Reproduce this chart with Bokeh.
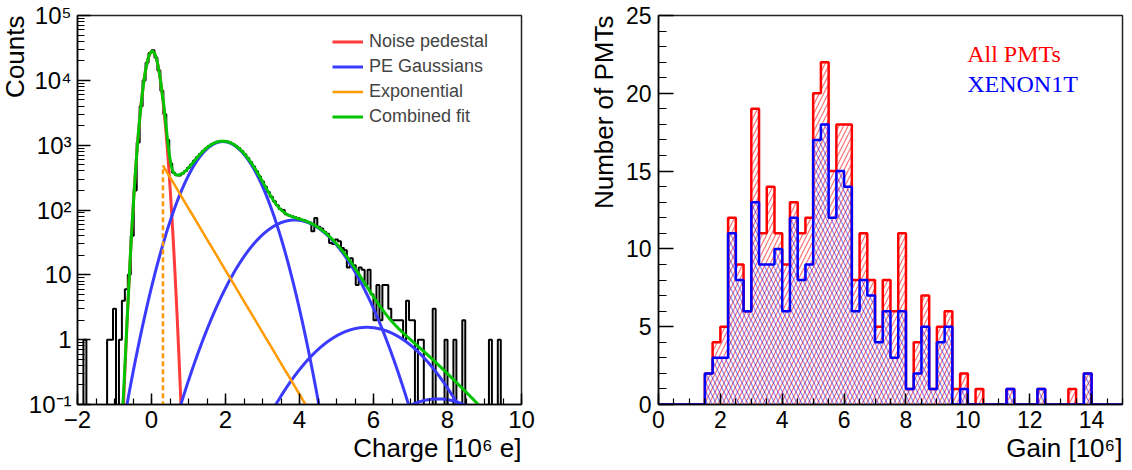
import numpy as np
from bokeh.plotting import figure
from bokeh.layouts import row
from bokeh.models import (Range1d, FixedTicker, CustomJSTickFormatter, Label,
                          Legend, LegendItem, Title)
from bokeh.embed import file_html
from bokeh.resources import INLINE

# ---------------- left panel: charge spectrum ----------------
charge_lo, charge_hi, charge_bw = -2.0, 10.0, 0.08
charge_counts = [
    0, 0, 1, 0, 0, 0, 0, 0, 0, 0,
    1, 1, 3, 0, 1, 4, 6, 10, 40, 200,
    1100, 4000, 9900, 18600, 26500, 29000, 22600, 14200, 6900, 3000,
    1200, 520, 375, 345, 340, 365, 400, 450, 505, 575,
    650, 730, 815, 890, 975, 1035, 1090, 1130, 1150, 1150,
    1135, 1095, 1045, 975, 900, 810, 725, 635, 550, 470,
    395, 330, 275, 228, 190, 160, 136, 118, 104, 100,
    86, 82, 80, 77, 75, 71, 70, 66, 64, 47,
    75, 55, 52, 46, 43, 31, 30, 35, 33, 26,
    24, 13, 18, 14, 7, 13, 12, 7, 12, 5,
    2, 7, 2, 7, 7, 3, 2, 2, 2, 2,
    1, 4, 2, 2, 0, 1, 1, 0, 0, 0,
    3, 0, 0, 0, 1, 0, 0, 1, 0, 0,
    2, 0, 0, 0, 0, 0, 0, 0, 0, 1,
    0, 0, 1, 0, 0, 0, 0, 0, 0, 0,
]

# fit parameters
pedestal_amp, pedestal_mean, pedestal_sigma = 2.8e4, 0.02, 0.155
exp_start, exp_amp, exp_tau = 0.31, 486.0, 0.454
pe_amp = [1135.0, 70.0, 1.55, 0.122]
pe_mean = [1.93, 3.87, 5.82, 7.74]
pe_sigma = [0.60, 0.85, 1.05, 1.10]

legend_labels = ["Noise pedestal", "PE Gaussians", "Exponential", "Combined fit"]

# ---------------- right panel: gain distribution ----------------
gain_lo, gain_hi, gain_bw = 0.0, 15.0, 0.25
all_pmts = [
    0, 0, 0, 0, 0, 0, 2, 4, 5, 12,
    9, 6, 19, 11, 14, 11, 9, 13, 11, 12,
    20, 22, 15, 18, 18, 8, 11, 8, 5, 8,
    6, 11, 1, 4, 7, 1, 5, 6, 1, 2,
    0, 1, 0, 0, 0, 1, 0, 0, 0, 1,
    0, 0, 0, 1, 0, 2, 0, 0, 0, 0,
]
xenon1t = [
    0, 0, 0, 0, 0, 0, 2, 3, 3, 11,
    8, 6, 13, 9, 9, 10, 6, 12, 8, 9,
    17, 18, 12, 15, 14, 6, 8, 7, 4, 6,
    3, 6, 1, 2, 5, 1, 4, 5, 0, 1,
    0, 0, 0, 0, 0, 1, 0, 0, 0, 1,
    0, 0, 0, 0, 0, 2, 0, 0, 0, 0,
]
hist_labels = ["All PMTs", "XENON1T"]

RED_FIT, BLUE_FIT, ORANGE, GREEN = "#ff3b3b", "#3b3bff", "#ff9a00", "#00c400"
SANS = "Liberation Sans"
SERIF = "Liberation Serif"


def step_xy(lo, bw, vals, floor):
    v = np.maximum(np.asarray(vals, dtype=float), floor)
    edges = lo + bw * np.arange(len(v) + 1)
    xs = np.concatenate([[edges[0]], np.repeat(edges, 2)[1:-1], [edges[-1]]])
    ys = np.concatenate([[floor], np.repeat(v, 2), [floor]])
    return xs, ys


def gauss(x, a, m, s):
    return a * np.exp(-0.5 * ((x - m) / s) ** 2)


def style_axes(p, ymaj, ymin, xmaj, xmin, fs, ystand):
    for ax in p.yaxis:
        ax.major_tick_in = ymaj
        ax.major_tick_out = 0
        ax.minor_tick_in = ymin
        ax.minor_tick_out = 0
        ax.major_label_standoff = ystand
    for ax in p.xaxis:
        ax.major_tick_in = xmaj
        ax.major_tick_out = 0
        ax.minor_tick_in = xmin
        ax.minor_tick_out = 0
        ax.major_label_standoff = 6
    for ax in list(p.xaxis) + list(p.yaxis):
        ax.axis_line_color = "black"
        ax.axis_line_width = 1.5
        ax.major_tick_line_color = "black"
        ax.minor_tick_line_color = "black"
        ax.major_tick_line_width = 1.5
        ax.minor_tick_line_width = 1.2
        ax.major_label_text_font = SANS
        ax.major_label_text_font_size = fs
        ax.major_label_text_color = "black"
        ax.axis_label = None


def axis_title(text, standoff=0):
    return Title(text=text, align="right", text_font=SANS, text_font_size="26px",
                 text_font_style="normal", text_color="black", standoff=standoff)


# ============ LEFT ============
p1 = figure(width=570, height=470, x_range=Range1d(charge_lo, charge_hi),
            y_range=Range1d(0.1, 1e5), y_axis_type="log",
            output_backend="svg", toolbar_location=None,
            min_border_left=77, min_border_right=49,
            min_border_top=12, min_border_bottom=66)
p1.grid.visible = False
p1.outline_line_color = "#222222"
p1.outline_line_width = 1.5

hx, hy = step_xy(charge_lo, charge_bw, charge_counts, 1e-3)
p1.line(hx, hy, line_color="black", line_width=2)

xc = np.linspace(charge_lo, charge_hi, 3001)
floor = 1e-3
ped = gauss(xc, pedestal_amp, pedestal_mean, pedestal_sigma)
r_red = p1.line(xc, np.maximum(ped, floor), line_color=RED_FIT, line_width=3)
pes = []
r_blue = None
for a, m, s in zip(pe_amp, pe_mean, pe_sigma):
    g = gauss(xc, a, m, s)
    pes.append(g)
    r = p1.line(xc, np.maximum(g, floor), line_color=BLUE_FIT, line_width=3)
    if r_blue is None:
        r_blue = r
mask = xc >= exp_start
expo = np.where(mask, exp_amp * np.exp(-(xc - exp_start) / exp_tau), 0.0)
p1.segment(x0=[exp_start], y0=[floor], x1=[exp_start], y1=[exp_amp],
           line_color=ORANGE, line_width=2.5, line_dash="5 3")
r_orange = p1.line(xc[mask], np.maximum(expo[mask], floor), line_color=ORANGE, line_width=2.5)
comb = ped + expo + np.sum(pes, axis=0)
r_green = p1.line(xc, np.maximum(comb, floor), line_color=GREEN, line_width=3)

legend = Legend(items=[LegendItem(label=legend_labels[0], renderers=[r_red]),
                       LegendItem(label=legend_labels[1], renderers=[r_blue]),
                       LegendItem(label=legend_labels[2], renderers=[r_orange]),
                       LegendItem(label=legend_labels[3], renderers=[r_green])],
                location=(255, 275), border_line_color=None,
                background_fill_alpha=0, padding=0, margin=0, spacing=0,
                glyph_width=31, glyph_height=25, label_height=25,
                label_standoff=6, label_text_font=SANS,
                label_text_font_size="18px")
p1.add_layout(legend)

log_fmt = CustomJSTickFormatter(code="""
const e = Math.round(Math.log10(tick));
const sup = {"-":"\u207b","0":"\u2070","1":"\u00b9","2":"\u00b2","3":"\u00b3","4":"\u2074","5":"\u2075","6":"\u2076","7":"\u2077","8":"\u2078","9":"\u2079"};
if (e == 0) return "1";
if (e == 1) return "10";
return "10" + String(e).split("").map(c => sup[c]).join("");
""")
lin_fmt = CustomJSTickFormatter(code="""
return tick < 0 ? "\u2212" + Math.abs(tick) : String(tick);
""")

p1.yaxis.ticker = FixedTicker(ticks=[0.1, 1, 10, 100, 1e3, 1e4, 1e5],
                              minor_ticks=[m * 10.0 ** e for e in range(-1, 5) for m in range(2, 10)])
p1.yaxis.formatter = log_fmt
p1.xaxis.ticker = FixedTicker(ticks=list(range(-2, 11, 2)),
                              minor_ticks=list(np.arange(-2, 10.01, 0.5)))
p1.xaxis.formatter = lin_fmt
style_axes(p1, 13, 7, 11, 6, "24px", 6)

p1.add_layout(axis_title("Counts", standoff=-8), "left")
p1.add_layout(axis_title("Charge [10\u2076 e]"), "below")

# ============ RIGHT ============
p2 = figure(width=562, height=470, x_range=Range1d(gain_lo, gain_hi),
            y_range=Range1d(0, 25), output_backend="svg", toolbar_location=None,
            min_border_left=88, min_border_right=10,
            min_border_top=15, min_border_bottom=66)
p2.grid.visible = False
p2.outline_line_color = "#222222"
p2.outline_line_width = 1.5

rx, ry = step_xy(gain_lo, gain_bw, all_pmts, 0.0)
bx, by = step_xy(gain_lo, gain_bw, xenon1t, 0.0)
p2.patch(rx, ry, fill_color=None, line_color=None,
         hatch_pattern="/", hatch_color="red", hatch_alpha=0.55,
         hatch_scale=9, hatch_weight=1.2)
p2.patch(bx, by, fill_color=None, line_color=None,
         hatch_pattern="\\", hatch_color="blue", hatch_alpha=0.45,
         hatch_scale=9, hatch_weight=1.2)
p2.line(rx, ry, line_color="red", line_width=2.5)
p2.line(bx, by, line_color="blue", line_width=2.5)

p2.yaxis.ticker = FixedTicker(ticks=[0, 5, 10, 15, 20, 25], minor_ticks=list(range(0, 26)))
p2.xaxis.ticker = FixedTicker(ticks=list(range(0, 15, 2)),
                              minor_ticks=list(np.arange(0, 15.01, 0.5)))
style_axes(p2, 15, 8, 11, 6, "23px", 7)

F2L, F2B = 658.3, 403.7
p2.add_layout(Label(x=967 - F2L, y=F2B - 53.5, x_units="screen", y_units="screen",
                    text=hist_labels[0], text_align="left", text_baseline="middle",
                    text_font=SERIF, text_font_size="24px", text_color="red"))
p2.add_layout(Label(x=967 - F2L, y=F2B - 83.5, x_units="screen", y_units="screen",
                    text=hist_labels[1], text_align="left", text_baseline="middle",
                    text_font=SERIF, text_font_size="24px", text_color="blue"))
p2.add_layout(axis_title("Number of PMTs", standoff=8), "left")
p2.add_layout(axis_title("Gain [10\u2076]"), "below")

layout = row(p1, p2)
with open("out.html", "w", encoding="utf-8") as f:
    f.write(file_html(layout, INLINE))
